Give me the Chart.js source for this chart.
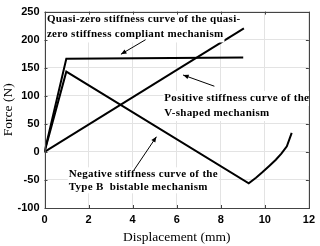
<!DOCTYPE html>
<html>
<head>
<meta charset="utf-8">
<script src="https://cdn.jsdelivr.net/npm/chart.js@4/dist/chart.umd.min.js"></script>
<style>
  html, body { margin: 0; padding: 0; background: #fff; }
  #wrap { width: 320px; height: 246px; position: relative; }
</style>
</head>
<body>
<div id="wrap"><canvas id="chart"></canvas></div>
<script>
// curve data (displacement mm, force N)
const quasiX = [0, 0.99, 9.02];
const quasiY = [0, 166, 168];

const positiveX = [0, 9.05];
const positiveY = [0, 220];

const negativeX = [0, 0.99, 9.27, 9.6, 9.9, 10.2, 10.5, 10.75, 11.0, 11.22];
const negativeY = [0, 143, -56, -46, -36, -25, -14, -3, 10, 34];

const xTicks = [0, 2, 4, 6, 8, 10, 12];
const yTicks = [-100, -50, 0, 50, 100, 150, 200, 250];

// annotation texts, anchored in data units
const notes = [
    { x: 0.11, y: 236, lines: ['Quasi-zero stiffness curve of the quasi-', 'zero stiffness compliant mechanism'] },
    { x: 5.44, y: 96, lines: ['Positive stiffness curve of the', 'V-shaped mechanism'] },
    { x: 1.1, y: -40, lines: ['Negative stiffness curve of the', 'Type B  bistable mechanism'] }
];
const noteGap = [15, 15, 13];
// arrows: from (x1,y1) to head at (x2,y2), data units
const arrows = [
    [4.59, 200, 3.47, 174],
    [7.71, 117, 6.29, 137],
    [4.05, -33, 5.08, 27]
];

function toPoints(xs, ys) {
    return xs.map(function(x, i) { return { x: x, y: ys[i] }; });
}

function lineSet(label, xs, ys) {
    return {
        label: label,
        data: toPoints(xs, ys),
        showLine: true,
        borderColor: '#000',
        borderWidth: 2,
        pointRadius: 0,
        tension: 0,
        fill: false
    };
}

// box, inward ticks, texts and arrows
const decorPlugin = {
    id: 'decor',
    afterDatasetsDraw: function(chart) {
        const ctx = chart.ctx;
        const a = chart.chartArea;
        const sx = chart.scales.x, sy = chart.scales.y;
        ctx.save();

        // texts with white background
        ctx.font = 'bold 11px "Liberation Serif"';
        ctx.letterSpacing = '0.3px';
        ctx.textBaseline = 'middle';
        ctx.textAlign = 'left';
        notes.forEach(function(n, k) {
            const px = sx.getPixelForValue(n.x);
            const py = sy.getPixelForValue(n.y);
            const lh = noteGap[k];
            n.lines.forEach(function(t, i) {
                const w = ctx.measureText(t).width;
                ctx.fillStyle = '#fff';
                ctx.fillRect(px - 1, py + i * lh - 7, w + 2, lh);
            });
            ctx.fillStyle = '#000';
            n.lines.forEach(function(t, i) {
                ctx.fillText(t, px, py + i * lh);
            });
        });

        // arrows
        ctx.strokeStyle = '#000';
        ctx.fillStyle = '#000';
        ctx.lineWidth = 1;
        arrows.forEach(function(r) {
            const x1 = sx.getPixelForValue(r[0]), y1 = sy.getPixelForValue(r[1]);
            const x2 = sx.getPixelForValue(r[2]), y2 = sy.getPixelForValue(r[3]);
            const ang = Math.atan2(y2 - y1, x2 - x1);
            ctx.beginPath();
            ctx.moveTo(x1, y1);
            ctx.lineTo(x2, y2);
            ctx.stroke();
            ctx.beginPath();
            ctx.moveTo(x2, y2);
            ctx.lineTo(x2 - 6 * Math.cos(ang - 0.4), y2 - 6 * Math.sin(ang - 0.4));
            ctx.lineTo(x2 - 6 * Math.cos(ang + 0.4), y2 - 6 * Math.sin(ang + 0.4));
            ctx.closePath();
            ctx.fill();
        });

        // box
        ctx.strokeStyle = '#444';
        ctx.lineWidth = 1;
        ctx.strokeRect(Math.round(a.left) + 0.5, Math.round(a.top) + 0.5,
            Math.round(a.right - a.left), Math.round(a.bottom - a.top));

        // inward ticks
        ctx.beginPath();
        xTicks.forEach(function(v) {
            const p = Math.round(sx.getPixelForValue(v)) + 0.5;
            ctx.moveTo(p, a.bottom); ctx.lineTo(p, a.bottom - 3);
            ctx.moveTo(p, a.top); ctx.lineTo(p, a.top + 3);
        });
        yTicks.forEach(function(v) {
            const p = Math.round(sy.getPixelForValue(v)) + 0.5;
            ctx.moveTo(a.left, p); ctx.lineTo(a.left + 3, p);
            ctx.moveTo(a.right, p); ctx.lineTo(a.right - 3, p);
        });
        ctx.stroke();
        ctx.restore();
    }
};

new Chart(document.getElementById('chart'), {
    type: 'scatter',
    data: {
        datasets: [
            lineSet('Quasi-zero stiffness', quasiX, quasiY),
            lineSet('Positive stiffness', positiveX, positiveY),
            lineSet('Negative stiffness', negativeX, negativeY)
        ]
    },
    options: {
        responsive: true,
        maintainAspectRatio: false,
        animation: false,
        layout: { padding: { left: 0, right: 7.5, top: 9, bottom: 0 } },
        plugins: {
            legend: { display: false },
            tooltip: { enabled: false }
        },
        scales: {
            x: {
                type: 'linear',
                min: 0,
                max: 12,
                afterBuildTicks: function(s) { s.ticks = xTicks.map(function(v) { return { value: v }; }); },
                afterFit: function(s) { s.height = 38; },
                grid: { color: '#e3e3e3', drawTicks: false },
                border: { display: false },
                ticks: {
                    color: '#000',
                    padding: 5,
                    font: { family: '"Liberation Sans"', size: 11, weight: 'bold' }
                },
                title: {
                    display: true,
                    text: 'Displacement (mm)',
                    color: '#000',
                    padding: { top: 0, bottom: 0 },
                    font: { family: '"Liberation Serif"', size: 13.5 }
                }
            },
            y: {
                type: 'linear',
                min: -100,
                max: 250,
                afterBuildTicks: function(s) { s.ticks = yTicks.map(function(v) { return { value: v }; }); },
                afterFit: function(s) { s.width = 44.5; },
                grid: { color: '#e3e3e3', drawTicks: false },
                border: { display: false },
                ticks: {
                    color: '#000',
                    padding: 5,
                    font: { family: '"Liberation Sans"', size: 11, weight: 'bold' }
                },
                title: {
                    display: true,
                    text: 'Force (N)',
                    color: '#000',
                    padding: { top: 0, bottom: 2 },
                    font: { family: '"Liberation Serif"', size: 13.5 }
                }
            }
        }
    },
    plugins: [decorPlugin]
});
</script>
</body>
</html>
